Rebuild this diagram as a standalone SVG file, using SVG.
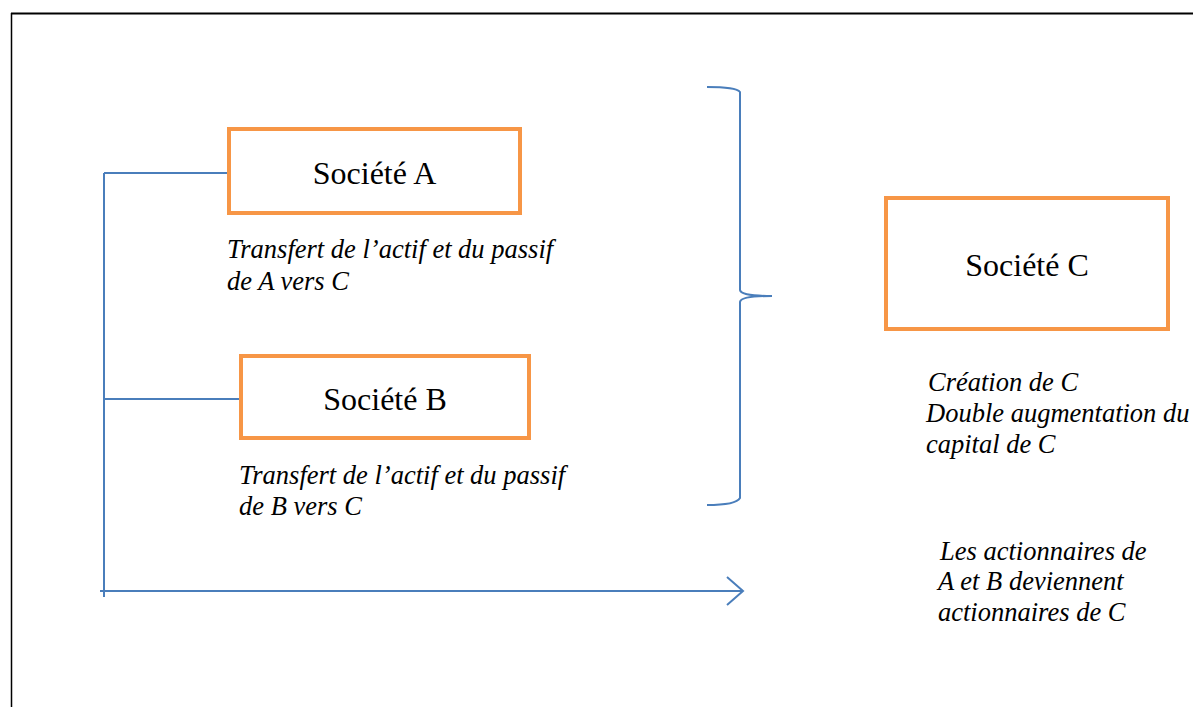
<svg xmlns="http://www.w3.org/2000/svg" width="1193" height="707" viewBox="0 0 1193 707">
<style>
.box{fill:#fff;stroke:#F79646;stroke-width:4}
.lbl{font-family:"Liberation Serif",serif;font-size:32px;fill:#000;text-anchor:middle}
.it{font-family:"Liberation Serif",serif;font-size:26.5px;font-style:italic;fill:#000}
.con{fill:none;stroke:#4A7EBB;stroke-width:2}
</style>
<rect width="1193" height="707" fill="#fff"/>
<path d="M11.5 707 V13" fill="none" stroke="#000" stroke-width="1.5"/>
<path d="M11 13.5 H1193" stroke="#000" stroke-width="2"/>
<g id="connectors">
<path class="con" d="M104 173 V597"/>
<path class="con" d="M104 173 H229"/>
<path class="con" d="M104 399 H241"/>
<path class="con" d="M100 591 H743"/>
<path class="con" d="M727 577 L743 591 L727 605"/>
<path class="con" d="M707 87 Q736 87 740 92 V290 Q741 296 772 296 Q741 296 740 302 V498 Q736 505 707 505"/>
</g>
<g id="nodeA">
<rect class="box" x="229" y="129" width="291" height="84"/>
<text class="lbl" x="374.5" y="184">Société A</text>
<text class="it" x="227" y="258">Transfert de l’actif et du passif</text>
<text class="it" x="227" y="290">de A vers C</text>
</g>
<g id="nodeB">
<rect class="box" x="241" y="356" width="288" height="82"/>
<text class="lbl" x="385" y="410">Société B</text>
<text class="it" x="239" y="484">Transfert de l’actif et du passif</text>
<text class="it" x="239" y="515">de B vers C</text>
</g>
<g id="nodeC">
<rect class="box" x="886" y="198" width="282" height="131"/>
<text class="lbl" x="1027" y="276">Société C</text>
<text class="it" x="928" y="391">Création de C</text>
<text class="it" x="926" y="422">Double augmentation du</text>
<text class="it" x="926" y="453">capital de C</text>
</g>
<g id="note">
<text class="it" x="940" y="560">Les actionnaires de</text>
<text class="it" x="938" y="590">A et B deviennent</text>
<text class="it" x="938" y="621">actionnaires de C</text>
</g>
</svg>
